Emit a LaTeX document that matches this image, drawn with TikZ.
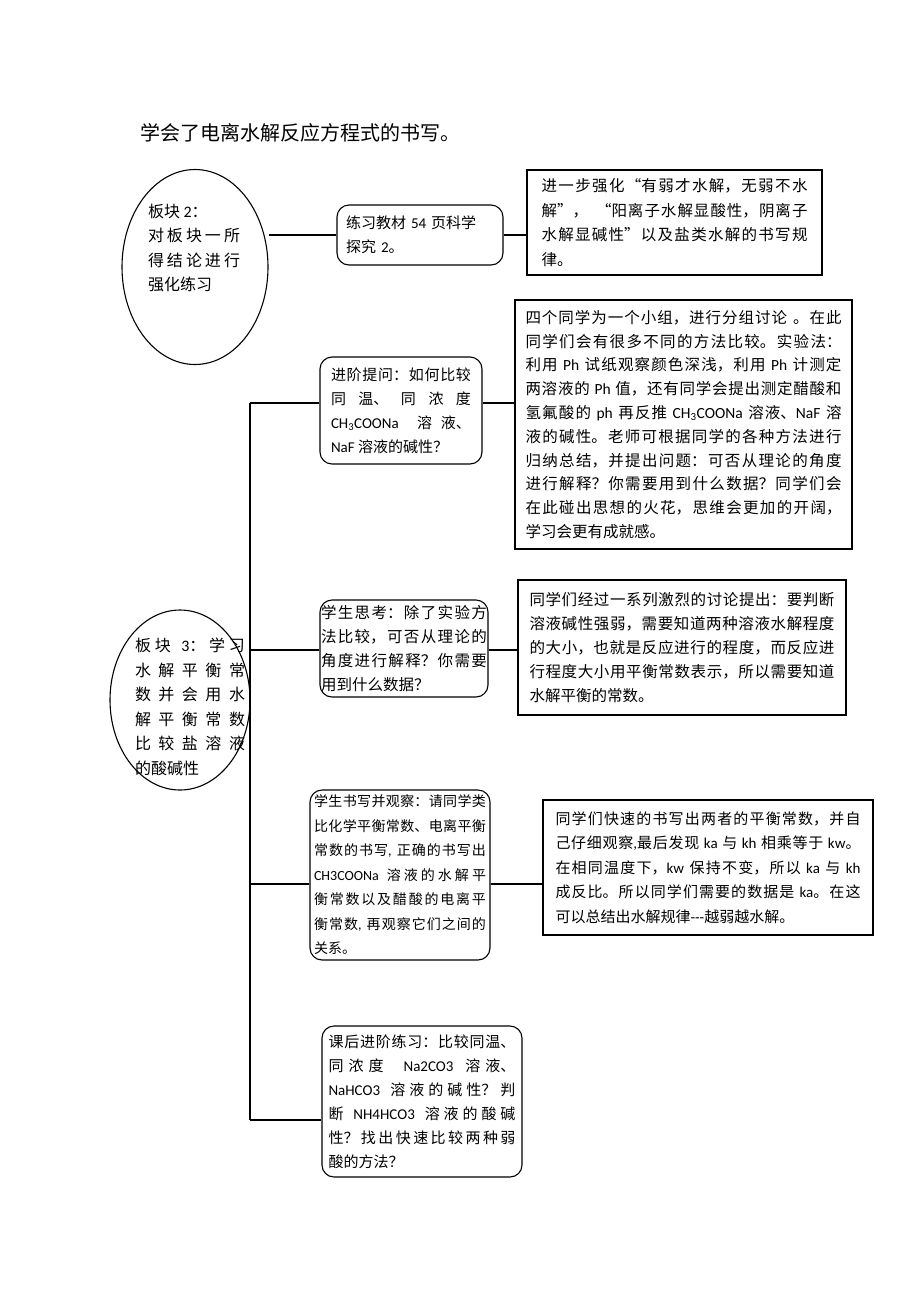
\documentclass[tikz,border=0pt]{standalone}
\usepackage{fontspec}
\setmainfont{Noto Sans CJK SC}
\newfontfamily\latfont{Carlito}
\newcommand\eng[1]{{\latfont #1}}
\XeTeXlinebreaklocale "zh"
\XeTeXlinebreakskip=0pt plus 1pt
\tolerance=10000
\pretolerance=-1
\hbadness=10000
\hfuzz=2pt
\usetikzlibrary{shapes.geometric}
\tikzset{
  conn/.style={line width=1.1pt, draw=black},
  rbox/.style={draw, line width=1.1pt, rounded corners=12pt, align=justify, inner sep=0pt,
    font=\fontsize{15}{24}\selectfont},
  sbox/.style={draw, line width=1.2pt, align=justify, inner sep=0pt,
    font=\fontsize{15}{24}\selectfont},
  oval/.style={ellipse, draw, line width=1.1pt, inner sep=0pt},
  ovaltext/.style={align=justify, inner sep=0pt, font=\fontsize{16}{24.5}\selectfont}
}
\begin{document}
\begin{tikzpicture}[x=1pt,y=-1pt]
\fill[white] (0,0) rectangle (920,1302);
\useasboundingbox (0,0) rectangle (920,1302);

\node[anchor=west, inner sep=0pt, font=\fontsize{20}{24}\selectfont] (title) at (140,133) {学会了电离水解反应方程式的书写。};

% block 2
\node[oval, minimum width=146pt, minimum height=195pt] (e1) at (195,267) {};
\node[ovaltext, text width=92pt] (e1t) at (194,248) {板块 \eng{2}：\par 对板块一所\linebreak 得结论进行\linebreak 强化练习};
\node[rbox, minimum width=166pt, minimum height=60pt, text width=148pt, align=left] (b2) at (420,235) {练习教材 \eng{54} 页科学\\探究 \eng{2}。};
\node[sbox, minimum width=295pt, minimum height=105pt, text width=266pt, font=\fontsize{15.5}{24.5}\selectfont] (b3) at (674.5,222.5) {进一步强化“有弱才水解，无弱不水\linebreak 解”，\hspace{8pt}“阳离子水解显酸性，阴离子\linebreak 水解显碱性”以及盐类水解的书写规\linebreak 律。};

\draw[conn] (e1.east |- b2.west) -- (b2.west);
\draw[conn] (b2.east) -- (b3.west |- b2.east);

% block 3
\node[oval, minimum width=140pt, minimum height=180pt] (e2) at (180,700) {};
\node[ovaltext, text width=110pt] (e2t) at (190,707) {板块 \eng{3}：学习\linebreak 水解平衡常\linebreak 数并会用水\linebreak 解平衡常数\linebreak 比较盐溶液\linebreak 的酸碱性};

\node[rbox, minimum width=162pt, minimum height=107pt, text width=140pt] (q1) at (401,410.5) {进阶提问：如何比较\linebreak 同温、同浓度\linebreak \eng{CH\textsubscript{3}COONa} 溶液、\linebreak \eng{NaF} 溶液的碱性？};
\node[sbox, minimum width=337pt, minimum height=249pt, text width=316pt, font=\fontsize{15.5}{23.8}\selectfont] (a1) at (683.5,424.5) {四个同学为一个小组，进行分组讨论\hspace{6pt}。在此\linebreak 同学们会有很多不同的方法比较。实验法：\linebreak 利用 \eng{Ph} 试纸观察颜色深浅，利用 \eng{Ph} 计测定\linebreak 两溶液的 \eng{Ph} 值，还有同学会提出测定醋酸和\linebreak 氢氟酸的 \eng{ph} 再反推 \eng{CH\textsubscript{3}COONa} 溶液、\eng{NaF} 溶\linebreak 液的碱性。老师可根据同学的各种方法进行\linebreak 归纳总结，并提出问题：可否从理论的角度\linebreak 进行解释？你需要用到什么数据？同学们会\linebreak 在此碰出思想的火花，思维会更加的开阔，\linebreak 学习会更有成就感。};

\node[rbox, minimum width=168pt, minimum height=97pt, text width=166pt, font=\fontsize{15.5}{24}\selectfont] (q2) at (404,648.5) {学生思考：除了实验方\linebreak 法比较，可否从理论的\linebreak 角度进行解释？你需要\linebreak 用到什么数据？};
\node[sbox, minimum width=328pt, minimum height=135pt, text width=305pt, font=\fontsize{15.5}{24}\selectfont] (a2) at (682,647.5) {同学们经过一系列激烈的讨论提出：要判断\linebreak 溶液碱性强弱，需要知道两种溶液水解程度\linebreak 的大小，也就是反应进行的程度，而反应进\linebreak 行程度大小用平衡常数表示，所以需要知道\linebreak 水解平衡的常数。};

\node[rbox, minimum width=180pt, minimum height=170pt, text width=172pt, font=\fontsize{14}{24.5}\selectfont] (q3) at (400,875) {学生书写并观察：请同学类\linebreak 比化学平衡常数、电离平衡\linebreak 常数的书写\eng{,} 正确的书写出\linebreak \eng{CH3COONa} 溶液的水解平\linebreak 衡常数以及醋酸的电离平\linebreak 衡常数\eng{,} 再观察它们之间的\linebreak 关系。};
\node[sbox, minimum width=330pt, minimum height=135pt, text width=305pt, font=\fontsize{15}{24.5}\selectfont] (a3) at (708,867.5) {同学们快速的书写出两者的平衡常数，并自\linebreak 己仔细观察\eng{,}最后发现 \eng{ka} 与 \eng{kh} 相乘等于 \eng{kw}。\linebreak 在相同温度下，\eng{kw} 保持不变，所以 \eng{ka} 与 \eng{kh}\linebreak 成反比。所以同学们需要的数据是 \eng{ka}。在这\linebreak 可以总结出水解规律\eng{-{}-{}-}越弱越水解。};

\node[rbox, minimum width=200pt, minimum height=151pt, text width=187pt, font=\fontsize{15}{24}\selectfont] (q4) at (422,1101.5) {课后进阶练习：比较同温、\linebreak 同浓度\hspace{8pt} \eng{Na2CO3} 溶液、\linebreak \eng{NaHCO3} 溶液的碱性？判\linebreak 断 \eng{NH4HCO3} 溶液的酸碱\linebreak 性？找出快速比较两种弱\linebreak 酸的方法？};

% trunk and branches
\coordinate (t1) at (250,403);
\coordinate (t2) at (250,650);
\coordinate (t3) at (250,884);
\coordinate (t4) at (250,1120);
\draw[conn] (t1) -- (t4);
\draw[conn] (t1) -- (q1.west |- t1);
\draw[conn] (q1.east |- t1) -- (a1.west |- t1);
\draw[conn] (t2) -- (q2.west |- t2);
\draw[conn] (q2.east |- t2) -- (a2.west |- t2);
\draw[conn] (t3) -- (q3.west |- t3);
\draw[conn] (q3.east |- t3) -- (a3.west |- t3);
\draw[conn] (t4) -- (q4.west |- t4);
\end{tikzpicture}
\end{document}
